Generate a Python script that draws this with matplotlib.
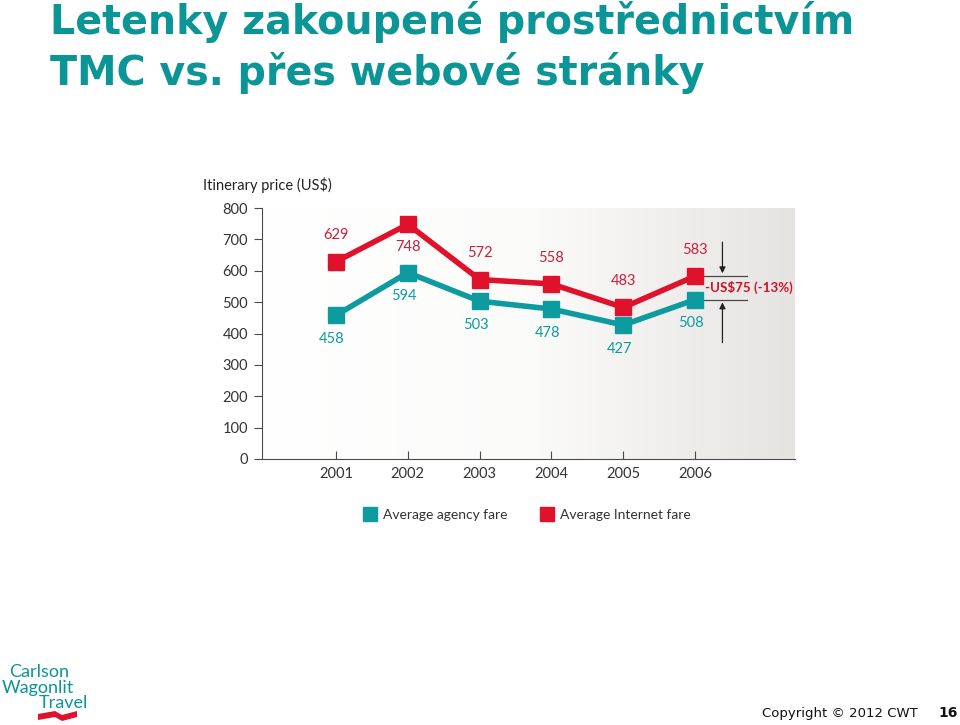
import numpy as np
import matplotlib
matplotlib.use("Agg")
import matplotlib.pyplot as plt
from matplotlib.patches import Polygon
from matplotlib.lines import Line2D
from matplotlib.colors import LinearSegmentedColormap

years = [2001, 2002, 2003, 2004, 2005, 2006]
agency = [458, 594, 503, 478, 427, 508]
internet = [629, 748, 572, 558, 483, 583]
yticks = [0, 100, 200, 300, 400, 500, 600, 700, 800]

TEAL = "#0e9ba0"
RED = "#e0112b"
TITLE_C = "#0b9596"
AX_C = "#4a4a4a"
FONT = "Lato"

fig = plt.figure(figsize=(9.6, 7.25), dpi=100)
fig.patch.set_facecolor("white")

# Title
fig.text(50/960, 1 - 1/725, "Letenky zakoupené prostřednictvím\nTMC vs. přes webové stránky",
         fontsize=28.5, fontweight="bold", color=TITLE_C, family="DejaVu Sans",
         ha="left", va="top", linespacing=1.27)

ax = fig.add_axes([262/960, 1 - 459/725, (795-262)/960, (459-208)/725])
ax.set_xlim(1999.97, 2007.39)
ax.set_ylim(0, 800)

# gradient background
grad = np.linspace(0, 1, 256).reshape(1, -1)
cmap = LinearSegmentedColormap.from_list("bg", ["#ffffff", "#fbfbfa", "#e6e4e1"])
ax.imshow(grad, extent=[1999.97, 2007.39, 0, 800], aspect="auto", cmap=cmap, zorder=0)

ax.plot(years, internet, color=RED, lw=4, marker="s", ms=11, zorder=3)
ax.plot(years, agency, color=TEAL, lw=4, marker="s", ms=11, zorder=3)

# value labels
for x, v in zip(years, internet):
    dy = -16 if v == max(internet) else 19
    ax.annotate(str(v), (x, v), xytext=(0, dy), textcoords="offset points",
                ha="center", va="center", color="#c8203a", fontsize=10.5, family=FONT)
for x, v in zip(years, agency):
    ax.annotate(str(v), (x, v), xytext=(-3, -17), textcoords="offset points",
                ha="center", va="center", color=TEAL, fontsize=10.5, family=FONT)

# difference annotation
last = years[-1]
ax.plot([last + 0.05, last + 0.72], [internet[-1]] * 2, color=AX_C, lw=0.9, zorder=2)
ax.plot([last + 0.05, last + 0.72], [agency[-1]] * 2, color=AX_C, lw=0.9, zorder=2)
ax.annotate("", xy=(last + 0.38, internet[-1]), xytext=(last + 0.38, 700),
            arrowprops=dict(arrowstyle="-|>", color="#222222", lw=0.9, mutation_scale=9))
ax.annotate("", xy=(last + 0.38, agency[-1]), xytext=(last + 0.38, 362),
            arrowprops=dict(arrowstyle="-|>", color="#222222", lw=0.9, mutation_scale=9))
diff = internet[-1] - agency[-1]
pct = round(diff / internet[-1] * 100)
ax.text(last + 0.14, (internet[-1] + agency[-1]) / 2, f"-US${diff} (-{pct}%)",
        color="#d0102a", fontsize=9.6, fontweight="bold", family=FONT, ha="left", va="center")

# axes styling
for s in ["top", "right"]:
    ax.spines[s].set_visible(False)
ax.spines["left"].set_color(AX_C)
ax.spines["bottom"].set_color(AX_C)
ax.set_yticks(yticks)
ax.set_yticklabels([str(t) for t in yticks], family=FONT, fontsize=10.5, color="#333333")
ax.tick_params(axis="y", direction="out", length=6, color=AX_C, pad=4)
ax.set_xticks(years)
ax.set_xticklabels([str(y) for y in years], family=FONT, fontsize=10.5, color="#333333")
ax.tick_params(axis="x", direction="in", length=6, color=AX_C, pad=6)

fig.text(203/960, 1 - 185/725, "Itinerary price (US$)", family=FONT, fontsize=10.5,
         color="#222222", ha="left", va="center")

# legend
handles = [Line2D([], [], ls="none", marker="s", ms=10, color=TEAL),
           Line2D([], [], ls="none", marker="s", ms=10, color=RED)]
fig.legend(handles, ["Average agency fare", "Average Internet fare"], ncol=2, frameon=False,
           loc="center", bbox_to_anchor=(527/960, 1 - 515/725), handletextpad=0.4,
           columnspacing=2.4, prop=dict(family=FONT, size=10), labelcolor="#333333",
           handlelength=1.0)

# logo
for txt, x, y in [("Carlson", 9, 672), ("Wagonlit", 2, 688), ("Travel", 39, 703)]:
    fig.text(x/960, 1 - y/725, txt, color=TITLE_C, fontsize=13, family=FONT,
             ha="left", va="center")
wave = Polygon([(38/960, 1-714/725), (55/960, 1-711/725), (62/960, 1-715/725), (77/960, 1-711/725),
                (77/960, 1-717/725), (62/960, 1-721/725), (55/960, 1-717/725), (38/960, 1-720/725)],
               closed=True, transform=fig.transFigure, color=RED, lw=0)
fig.patches.append(wave)

fig.text(918/960, 1 - 713/725, "Copyright © 2012 CWT", fontsize=9.5, family="DejaVu Sans",
         color="#111111", ha="right", va="center")
fig.text(958/960, 1 - 713/725, "16", fontsize=10, fontweight="bold", family="DejaVu Sans",
         color="#111111", ha="right", va="center")

fig.savefig("out.png", dpi=100, facecolor="white")
